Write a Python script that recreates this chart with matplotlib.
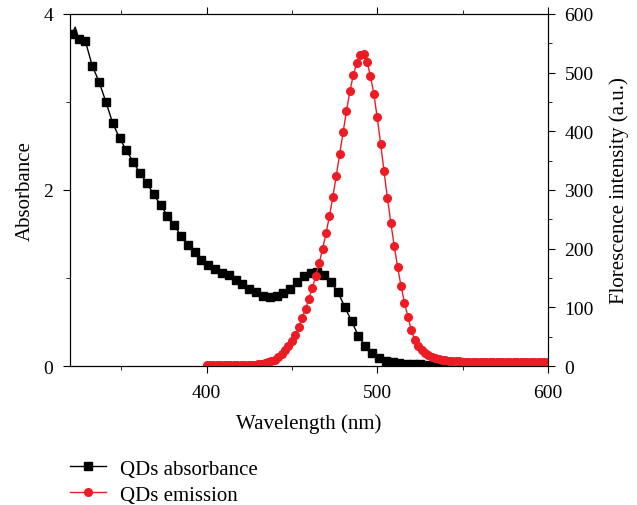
import numpy as np
import matplotlib.pyplot as plt
from matplotlib.ticker import MultipleLocator

plt.rcParams["font.family"] = ["Liberation Serif", "DejaVu Serif"]

# absorbance spectrum, sampled every 4 nm (323 nm is an unmarked spike in the trace)
abs_wl = [321, 323, 325, 329, 333, 337, 341, 345, 349, 353, 357, 361, 365, 369,
          373, 377, 381, 385, 389, 393, 397, 401, 405, 409, 413, 417, 421, 425,
          429, 433, 437, 441, 445, 449, 453, 457, 461, 465, 469, 473, 477, 481,
          485, 489, 493, 497, 501, 505, 509, 513, 517, 521, 525, 529, 533, 537, 541]
abs_val = [3.77, 3.85, 3.72, 3.69, 3.41, 3.23, 3.00, 2.76, 2.59, 2.45, 2.32, 2.19,
           2.08, 1.95, 1.83, 1.71, 1.60, 1.48, 1.38, 1.29, 1.21, 1.15, 1.10, 1.06,
           1.03, 0.98, 0.93, 0.875, 0.84, 0.80, 0.78, 0.79, 0.83, 0.88, 0.96, 1.02,
           1.06, 1.07, 1.03, 0.95, 0.84, 0.67, 0.51, 0.34, 0.23, 0.15, 0.09, 0.057,
           0.04, 0.03, 0.025, 0.02, 0.018, 0.016, 0.015, 0.014, 0.013]
abs_marked = [i for i in range(len(abs_wl)) if abs_wl[i] != 323]

# emission spectrum, 400-600 nm every 2 nm
em_wl = list(range(400, 601, 2))
em_val = [2, 2, 2, 2, 2, 2, 2, 2, 2, 2, 2, 2, 2, 2, 2.5, 3,
          3.5, 4.5, 6, 8, 11, 15, 20, 27, 34, 43, 53, 66, 82, 97, 115, 133,
          154, 175, 200, 226, 255, 288, 324, 361, 398, 435, 468, 496, 516, 530,
          532, 519, 495, 464, 424, 379, 332, 286, 244, 204, 168, 136, 108, 84,
          61, 45, 34, 27, 22, 18, 15, 13, 11.5, 10.5, 9.5, 9, 8.5, 8, 7.8, 7.6,
          7.5, 7.4, 7.3, 7.2, 7.1,
          7.1, 7.0, 7.0, 7.0, 6.9, 6.9, 6.9, 6.8, 6.8, 6.8, 6.8, 6.7, 6.7, 6.7,
          6.7, 6.6, 6.6, 6.6, 6.6, 6.6]

RED = "#ed1c24"

fig = plt.figure(figsize=(6.37, 5.06), dpi=100)
ax = fig.add_axes([0.110, 0.2747, 0.750, 0.6957])
ax2 = ax.twinx()

l1, = ax.plot(abs_wl, abs_val, color="black", lw=1.0, marker="s", ms=5.2,
              markevery=abs_marked, label="QDs absorbance", zorder=3)
l2, = ax2.plot(em_wl, em_val, color=RED, lw=1.0, marker="o", ms=5.5,
               mec=RED, mfc=RED, label="QDs emission")

ax.set_xlim(320, 600)
ax.set_ylim(0, 4)
ax2.set_ylim(0, 600)

ax.xaxis.set_major_locator(MultipleLocator(100))
ax.xaxis.set_minor_locator(MultipleLocator(50))
ax.yaxis.set_major_locator(MultipleLocator(2))
ax.yaxis.set_minor_locator(MultipleLocator(1))
ax2.yaxis.set_major_locator(MultipleLocator(100))
ax2.yaxis.set_minor_locator(MultipleLocator(50))

for a in (ax, ax2):
    a.tick_params(which="both", direction="out", labelsize=14)
    a.tick_params(which="major", length=5)
    a.tick_params(which="minor", length=3)
    a.tick_params(axis="y", which="major", pad=7)
ax.tick_params(axis="x", which="major", pad=8)
ax.tick_params(which="both", top=True)

ax.set_xlabel("Wavelength (nm)", fontsize=15, labelpad=9)
ax.set_ylabel("Absorbance", fontsize=15, labelpad=6)
ax2.set_ylabel("Florescence intensity (a.u.)", fontsize=15, labelpad=11)

fig.legend(handles=[l1, l2], loc="upper left", bbox_to_anchor=(0.097, 0.107),
           frameon=False, fontsize=15, handlelength=1.7, handletextpad=0.7,
           labelspacing=0.3, borderaxespad=0)

fig.savefig("out.png", dpi=100)
